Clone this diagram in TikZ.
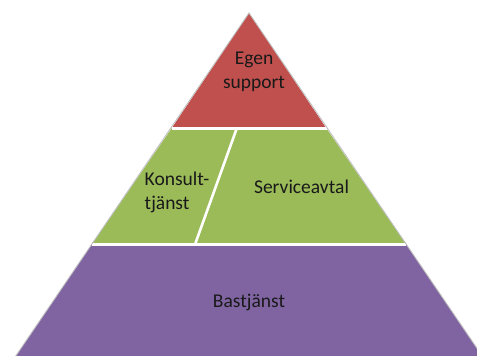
\documentclass[tikz,border=0pt]{standalone}
\usepackage{fontspec}
\setmainfont{Carlito}
\definecolor{pred}{HTML}{C0504D}
\definecolor{pgreen}{HTML}{9BBB59}
\definecolor{ppurple}{HTML}{8064A2}
\begin{document}
\begin{tikzpicture}[x=1pt,y=-1pt,
  lbl/.style={font=\fontsize{19.5}{24}\selectfont, text=black!90, inner sep=0pt},
  sep/.style={white, line width=2.6pt},
  edge/.style={draw=black!25, line width=0.9pt}]
\useasboundingbox (0,0) rectangle (477,356);
\clip (0,0) rectangle (477,356);
\coordinate (apex) at (249,13);
\coordinate (r1l) at (171.5,128.5);
\coordinate (r1r) at (326.5,128.5);
\coordinate (r2l) at (91.6,244.5);
\coordinate (r2r) at (406.4,244.5);
\coordinate (bl) at (8.3,367);
\coordinate (br) at (489.7,367);
\coordinate (dtop) at (236.7,128.5);
\coordinate (dbot) at (195,244.5);
\fill[pred] (apex) -- (r1r) -- (r1l) -- cycle;
\fill[pgreen] (r1l) -- (r1r) -- (r2r) -- (r2l) -- cycle;
\fill[ppurple] (r2l) -- (r2r) -- (br) -- (bl) -- cycle;
\draw[sep] (r1l) -- (r1r);
\draw[sep] (r2l) -- (r2r);
\draw[sep] (dtop) -- (dbot);
\draw[edge] (bl) -- (apex) -- (br);
\node[lbl, align=center] (egen) at (254,72) {Egen\\support};
\node[lbl, align=left] (konsult) at (177,192) {Konsult-\\tjänst};
\node[lbl] (service) at (301.5,187) {Serviceavtal};
\node[lbl] (bas) at (249,302.5) {Bastjänst};
\end{tikzpicture}
\end{document}
